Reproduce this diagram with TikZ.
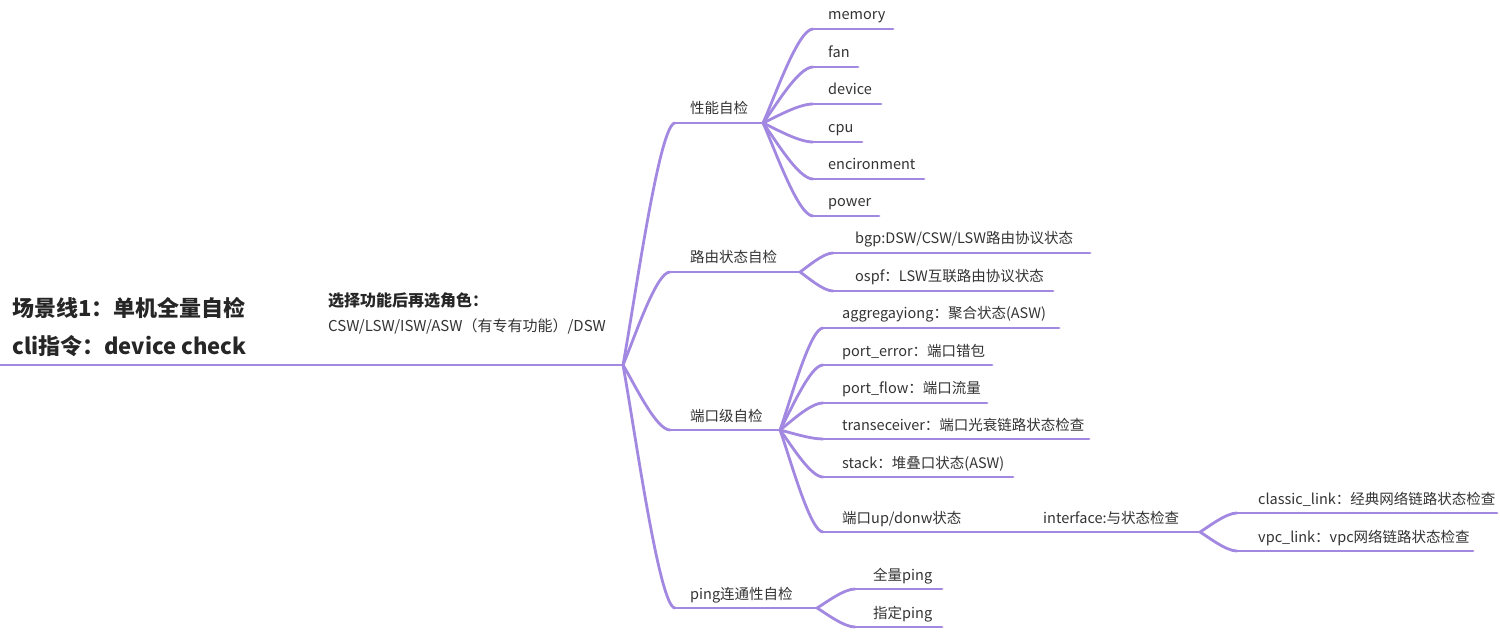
\documentclass[tikz,border=0pt]{standalone}
\usepackage{fontspec}
\setmainfont{Noto Sans CJK SC}
\usepackage{tikz}
\usetikzlibrary{calc}

\definecolor{mapline}{RGB}{162,136,224}
\definecolor{maptext}{RGB}{51,51,51}

\tikzset{
  edge/.style={draw=mapline,line width=2.8pt,line cap=round},
  branch/.style={to path={let \p1=(\tikztostart), \p2=(\tikztotarget) in
    .. controls ({\x1+0.23*(\x2-\x1)},{\y1+0.27*(\y2-\y1)}) and ({\x1+0.7*(\x2-\x1)},\y2) .. (\tikztotarget)}},
  topic/.style={anchor=base west,inner sep=0pt,text=maptext,yshift=9pt,
    font=\fontsize{14.5}{17}\selectfont},
  headline/.style={anchor=base west,inner sep=0pt,text=black!85,
    font=\bfseries\fontsize{22}{26}\selectfont},
  rolehead/.style={anchor=base west,inner sep=0pt,text=black!85,
    font=\bfseries\fontsize{16}{19}\selectfont},
  roletext/.style={anchor=base west,inner sep=0pt,text=maptext,
    font=\fontsize{15}{18}\selectfont},
}

\begin{document}
\begin{tikzpicture}[x=1pt,y=-1pt]
    \useasboundingbox (0,0) rectangle (1500,636);

    % root and role
    \coordinate (root0) at (0,365);
    \coordinate (root1) at (310,365);
    \node[headline] (root) at (12,317) {场景线1：单机全量自检};
    \node[headline] (rootcli) at (12,355) {cli指令：device check};
    \coordinate (role1) at (623,365);
    \node[rolehead] (role) at (328,307) {选择功能后再选角色：};
    \node[roletext] (roletxt) at (328,332) {CSW/LSW/ISW/ASW（有专有功能）/DSW};
    \draw[edge] (root0) -- (root1) -- (role1);

    % first level
    \foreach \nm/\la/\lb/\ly/\lt in {perf/675/763/123/性能自检, route/670/800/272/路由状态自检,
        port/670/780/430/端口级自检, ping/675/817/608/ping连通性自检}{
        \coordinate (\nm0) at (\la,\ly);
        \coordinate (\nm1) at (\lb,\ly);
        \node[topic] (\nm) at (690,\ly) {\lt};
        \draw[edge] (\nm0) -- (\nm1);
        \draw[edge] (role1) to[branch] (\nm0);
    }

    % performance
    \foreach \nm/\ly/\lb/\lt in {mem/29/893/memory, fan/67/858/fan, dev/104/881/device,
        cpu/142/862/cpu, env/179/924/encironment, pow/216/879/power}{
        \coordinate (\nm0) at (813,\ly);
        \coordinate (\nm1) at (\lb,\ly);
        \node[topic] (\nm) at (828,\ly) {\lt};
        \draw[edge] (\nm0) -- (\nm1);
        \draw[edge] (perf1) to[branch] (\nm0);
    }

    % routing
    \foreach \nm/\ly/\lb/\lt in {bgp/253/1090/{bgp:DSW/CSW/LSW路由协议状态}, ospf/291/1053/{ospf：LSW互联路由协议状态}}{
        \coordinate (\nm0) at (833,\ly);
        \coordinate (\nm1) at (\lb,\ly);
        \node[topic] (\nm) at (855,\ly) {\lt};
        \draw[edge] (\nm0) -- (\nm1);
        \draw[edge] (route1) to[branch] (\nm0);
    }

    % ports
    \foreach \nm/\ly/\lb/\lt in {agg/328/1059/aggregayiong：聚合状态(ASW), err/365/992/port\_error：端口错包,
        flow/403/987/port\_flow：端口流量, trx/439/1089/transeceiver：端口光衰链路状态检查,
        stk/477/1013/stack：堆叠口状态(ASW), updown/532/1030/{端口up/donw状态}}{
        \coordinate (\nm0) at (823,\ly);
        \coordinate (\nm1) at (\lb,\ly);
        \node[topic] (\nm) at (842,\ly) {\lt};
        \draw[edge] (\nm0) -- (\nm1);
        \draw[edge] (port1) to[branch] (\nm0);
    }
    \coordinate (intf1) at (1200,532);
    \node[topic] (intf) at (1043,532) {interface:与状态检查};
    \draw[edge] (updown1) -- (intf1);
    \foreach \nm/\ly/\lb/\lt in {classic/513/1497/classic\_link：经典网络链路状态检查, vpc/551/1473/vpc\_link：vpc网络链路状态检查}{
        \coordinate (\nm0) at (1237,\ly);
        \coordinate (\nm1) at (\lb,\ly);
        \node[topic] (\nm) at (1258,\ly) {\lt};
        \draw[edge] (\nm0) -- (\nm1);
        \draw[edge] (intf1) to[branch] (\nm0);
    }

    % ping
    \foreach \nm/\ly/\lt in {pall/589/全量ping, pset/627/指定ping}{
        \coordinate (\nm0) at (855,\ly);
        \coordinate (\nm1) at (942,\ly);
        \node[topic] (\nm) at (873,\ly) {\lt};
        \draw[edge] (\nm0) -- (\nm1);
        \draw[edge] (ping1) to[branch] (\nm0);
    }
\end{tikzpicture}
\end{document}
